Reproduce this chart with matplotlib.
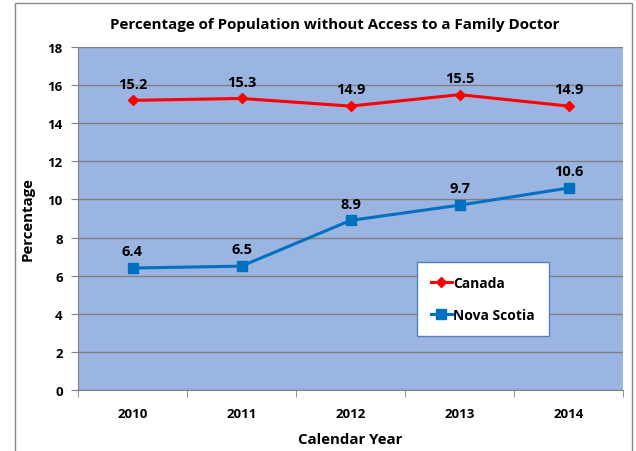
import matplotlib
matplotlib.use("Agg")
import matplotlib.pyplot as plt
from matplotlib.patches import Rectangle

years = ["2010", "2011", "2012", "2013", "2014"]
canada = [15.2, 15.3, 14.9, 15.5, 14.9]
nova_scotia = [6.4, 6.5, 8.9, 9.7, 10.6]
yticks = [0, 2, 4, 6, 8, 10, 12, 14, 16, 18]

plt.rcParams['font.family'] = ['Open Sans', 'DejaVu Sans']
plt.rcParams['font.weight'] = 'bold'

W, H = 636, 452
fig = plt.figure(figsize=(W / 100, H / 100), dpi=100)
ax = fig.add_axes([78 / W, 1 - 391 / H, (623 - 78) / W, (391 - 48) / H])
ax.set_facecolor('#9BB5E2')

x = list(range(len(years)))
ax.plot(x, canada, color='#FF0000', marker='D', markersize=5, linewidth=2.2, label='Canada')
ax.plot(x, nova_scotia, color='#0070C0', marker='s', markersize=7, linewidth=2.2, label='Nova Scotia')

for xi, v in zip(x, canada):
    ax.annotate(f"{v}", (xi, v), xytext=(0, 7), textcoords='offset points', ha='center', va='bottom',
                fontsize=10.5, fontweight='bold')
for xi, v in zip(x, nova_scotia):
    ax.annotate(f"{v}", (xi, v), xytext=(0, 7), textcoords='offset points', ha='center', va='bottom',
                fontsize=10.5, fontweight='bold')

ax.set_xlim(-0.5, len(years) - 0.5)
ax.set_ylim(0, 18)
ax.set_yticks(yticks)
ax.set_yticklabels([str(t) for t in yticks], fontsize=9.5, fontweight='bold')
ax.set_xticks(x)
ax.set_xticklabels(years, fontsize=9.5, fontweight='bold')
ax.tick_params(axis='x', length=0, pad=12)
ax.set_xticks([i - 0.5 for i in range(len(years) + 1)], minor=True)
ax.tick_params(axis='x', which='minor', length=5, color='#808080')
ax.tick_params(axis='y', length=5, color='#808080', pad=6)
ax.grid(axis='y', color='#808080', linewidth=1)
ax.set_axisbelow(True)
for s in ['top', 'right']:
    ax.spines[s].set_visible(False)
for s in ['left', 'bottom']:
    ax.spines[s].set_color('#808080')

ax.set_ylabel('Percentage', fontsize=10.8, fontweight='bold', labelpad=9)
ax.set_xlabel('Calendar Year', fontsize=10.8, fontweight='bold', labelpad=9)
fig.text(335 / W, 1 - 25 / H, 'Percentage of Population without Access to a Family Doctor',
         ha='center', va='center', fontsize=10.9, fontweight='bold')

leg = ax.legend(loc='upper left', bbox_to_anchor=((417 - 78) / 545, (391 - 263) / 343),
                borderaxespad=0,
                fontsize=10, frameon=True, fancybox=False, borderpad=1.0, labelspacing=1.3,
                handlelength=1.5, handletextpad=0.1)
leg.get_frame().set_edgecolor('#4F81BD')
leg.get_frame().set_linewidth(1)
leg.get_frame().set_facecolor('white')
leg.get_frame().set_alpha(1)
for t in leg.get_texts():
    t.set_fontweight('bold')

fig.patches.append(Rectangle((15 / W, -0.02), (632 - 15) / W, 1 - 4 / H + 0.02,
                             transform=fig.transFigure, fill=False, edgecolor='#888888', linewidth=1))

fig.savefig('out.png', dpi=100)
